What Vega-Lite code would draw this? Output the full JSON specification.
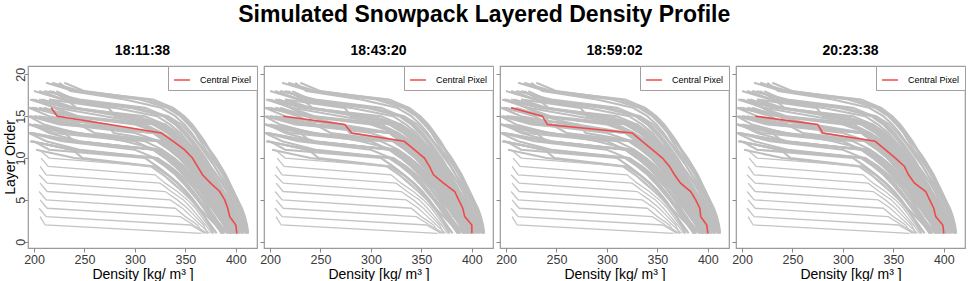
{
"$schema":"https://vega.github.io/schema/vega-lite/v6.json",
"padding":{"left":2,"right":4,"top":3,"bottom":2},
"title":{"text":"Simulated Snowpack Layered Density Profile","fontSize":23,"fontWeight":"bold","anchor":"middle","offset":16,"color":"black","font":"Liberation Sans"},
"config":{
 "font":"Liberation Sans",
 "view":{"stroke":"#9a9a9a","strokeWidth":1.2},
 "axis":{"grid":false,"domain":false,"tickColor":"#8a8a8a","tickSize":4,"labelFontSize":12.5,"labelColor":"#3a3a3a","titleFontSize":14,"titleFontWeight":"normal","titleColor":"black","labelFont":"Liberation Sans","titleFont":"Liberation Sans"},
 "concat":{"spacing":7},
 "legend":{"orient":"top-right","offset":0,"title":null,"padding":5,"strokeColor":"#a0a0a0","fillColor":"white","symbolType":"stroke","symbolSize":256,"symbolStrokeWidth":1.5,"labelFontSize":9,"labelFont":"Liberation Sans","labelColor":"black","labelOffset":9,"cornerRadius":0}
},
"bounds":"flush",
"datasets":{
"gray":[
{"g":1,"x":206,"y":3},{"g":1,"x":211,"y":2},{"g":1,"x":366,"y":1},
{"g":2,"x":205,"y":4},{"g":2,"x":212,"y":3},{"g":2,"x":355,"y":2},{"g":2,"x":370,"y":1},
{"g":3,"x":206,"y":5},{"g":3,"x":213,"y":4},{"g":3,"x":345,"y":3},{"g":3,"x":358,"y":2},{"g":3,"x":372,"y":1},
{"g":4,"x":205,"y":6},{"g":4,"x":212,"y":5},{"g":4,"x":340,"y":4},{"g":4,"x":350,"y":3},{"g":4,"x":362,"y":2},{"g":4,"x":368,"y":1},
{"g":5,"x":206,"y":7},{"g":5,"x":213,"y":6},{"g":5,"x":335,"y":5},{"g":5,"x":347,"y":4},{"g":5,"x":356,"y":3},{"g":5,"x":365,"y":2},{"g":5,"x":374,"y":1},
{"g":6,"x":205,"y":8},{"g":6,"x":213,"y":7},{"g":6,"x":330,"y":6},{"g":6,"x":342,"y":5},{"g":6,"x":352,"y":4},{"g":6,"x":360,"y":3},{"g":6,"x":368,"y":2},{"g":6,"x":372,"y":1},
{"g":7,"x":206,"y":9},{"g":7,"x":212,"y":8},{"g":7,"x":325,"y":7},{"g":7,"x":336,"y":6},{"g":7,"x":348,"y":5},{"g":7,"x":356,"y":4},{"g":7,"x":363,"y":3},{"g":7,"x":370,"y":2},{"g":7,"x":376,"y":1},
{"g":8,"x":207,"y":10},{"g":8,"x":214,"y":9},{"g":8,"x":320,"y":8},{"g":8,"x":330,"y":7},{"g":8,"x":342,"y":6},{"g":8,"x":352,"y":5},{"g":8,"x":360,"y":4},{"g":8,"x":366,"y":3},{"g":8,"x":372,"y":2},{"g":8,"x":378,"y":1},
{"g":9,"x":205,"y":11},{"g":9,"x":215,"y":10},{"g":9,"x":318,"y":9},{"g":9,"x":328,"y":8},{"g":9,"x":337,"y":7},{"g":9,"x":347,"y":6},{"g":9,"x":355,"y":5},{"g":9,"x":362,"y":4},{"g":9,"x":368,"y":3},{"g":9,"x":373,"y":2},{"g":9,"x":377,"y":1},
{"g":10,"x":212,"y":19},{"g":10,"x":240,"y":18},{"g":10,"x":305,"y":17},{"g":10,"x":332,"y":16},{"g":10,"x":345,"y":15},{"g":10,"x":353,"y":14},{"g":10,"x":360,"y":13},{"g":10,"x":365,"y":12},{"g":10,"x":370,"y":11},{"g":10,"x":376,"y":10},{"g":10,"x":382,"y":9},{"g":10,"x":387,"y":8},{"g":10,"x":392,"y":7},{"g":10,"x":396,"y":6},{"g":10,"x":400,"y":5},{"g":10,"x":404,"y":4},{"g":10,"x":408,"y":3},{"g":10,"x":411,"y":2},{"g":10,"x":412,"y":1},
{"g":11,"x":225,"y":19},{"g":11,"x":236,"y":18},{"g":11,"x":290,"y":17},{"g":11,"x":326,"y":16},{"g":11,"x":340,"y":15},{"g":11,"x":349,"y":14},{"g":11,"x":356,"y":13},{"g":11,"x":362,"y":12},{"g":11,"x":368,"y":11},{"g":11,"x":374,"y":10},{"g":11,"x":379,"y":9},{"g":11,"x":384,"y":8},{"g":11,"x":389,"y":7},{"g":11,"x":394,"y":6},{"g":11,"x":398,"y":5},{"g":11,"x":402,"y":4},{"g":11,"x":406,"y":3},{"g":11,"x":409,"y":2},{"g":11,"x":411,"y":1},
{"g":12,"x":205,"y":18},{"g":12,"x":230,"y":17},{"g":12,"x":300,"y":16},{"g":12,"x":328,"y":15},{"g":12,"x":340,"y":14},{"g":12,"x":348,"y":13},{"g":12,"x":355,"y":12},{"g":12,"x":361,"y":11},{"g":12,"x":367,"y":10},{"g":12,"x":373,"y":9},{"g":12,"x":378,"y":8},{"g":12,"x":383,"y":7},{"g":12,"x":388,"y":6},{"g":12,"x":393,"y":5},{"g":12,"x":398,"y":4},{"g":12,"x":402,"y":3},{"g":12,"x":406,"y":2},{"g":12,"x":410,"y":1},
{"g":13,"x":210,"y":18},{"g":13,"x":245,"y":17},{"g":13,"x":310,"y":16},{"g":13,"x":330,"y":15},{"g":13,"x":342,"y":14},{"g":13,"x":350,"y":13},{"g":13,"x":357,"y":12},{"g":13,"x":363,"y":11},{"g":13,"x":369,"y":10},{"g":13,"x":374,"y":9},{"g":13,"x":380,"y":8},{"g":13,"x":386,"y":7},{"g":13,"x":391,"y":6},{"g":13,"x":395,"y":5},{"g":13,"x":399,"y":4},{"g":13,"x":403,"y":3},{"g":13,"x":407,"y":2},{"g":13,"x":410,"y":1},
{"g":14,"x":200,"y":18},{"g":14,"x":228,"y":17},{"g":14,"x":280,"y":16},{"g":14,"x":322,"y":15},{"g":14,"x":335,"y":14},{"g":14,"x":345,"y":13},{"g":14,"x":352,"y":12},{"g":14,"x":359,"y":11},{"g":14,"x":365,"y":10},{"g":14,"x":371,"y":9},{"g":14,"x":377,"y":8},{"g":14,"x":383,"y":7},{"g":14,"x":388,"y":6},{"g":14,"x":393,"y":5},{"g":14,"x":397,"y":4},{"g":14,"x":401,"y":3},{"g":14,"x":404,"y":2},{"g":14,"x":407,"y":1},
{"g":15,"x":198,"y":17},{"g":15,"x":232,"y":16},{"g":15,"x":295,"y":15},{"g":15,"x":325,"y":14},{"g":15,"x":337,"y":13},{"g":15,"x":346,"y":12},{"g":15,"x":354,"y":11},{"g":15,"x":360,"y":10},{"g":15,"x":366,"y":9},{"g":15,"x":372,"y":8},{"g":15,"x":378,"y":7},{"g":15,"x":383,"y":6},{"g":15,"x":388,"y":5},{"g":15,"x":392,"y":4},{"g":15,"x":396,"y":3},{"g":15,"x":400,"y":2},{"g":15,"x":404,"y":1},
{"g":16,"x":215,"y":17},{"g":16,"x":240,"y":16},{"g":16,"x":302,"y":15},{"g":16,"x":328,"y":14},{"g":16,"x":340,"y":13},{"g":16,"x":350,"y":12},{"g":16,"x":357,"y":11},{"g":16,"x":364,"y":10},{"g":16,"x":370,"y":9},{"g":16,"x":376,"y":8},{"g":16,"x":381,"y":7},{"g":16,"x":386,"y":6},{"g":16,"x":391,"y":5},{"g":16,"x":395,"y":4},{"g":16,"x":399,"y":3},{"g":16,"x":402,"y":2},{"g":16,"x":405,"y":1},
{"g":17,"x":196,"y":17},{"g":17,"x":222,"y":16},{"g":17,"x":270,"y":15},{"g":17,"x":318,"y":14},{"g":17,"x":332,"y":13},{"g":17,"x":342,"y":12},{"g":17,"x":350,"y":11},{"g":17,"x":357,"y":10},{"g":17,"x":363,"y":9},{"g":17,"x":369,"y":8},{"g":17,"x":375,"y":7},{"g":17,"x":380,"y":6},{"g":17,"x":385,"y":5},{"g":17,"x":390,"y":4},{"g":17,"x":394,"y":3},{"g":17,"x":398,"y":2},{"g":17,"x":401,"y":1},
{"g":18,"x":196,"y":16},{"g":18,"x":235,"y":15},{"g":18,"x":300,"y":14},{"g":18,"x":324,"y":13},{"g":18,"x":336,"y":12},{"g":18,"x":346,"y":11},{"g":18,"x":354,"y":10},{"g":18,"x":361,"y":9},{"g":18,"x":367,"y":8},{"g":18,"x":373,"y":7},{"g":18,"x":379,"y":6},{"g":18,"x":384,"y":5},{"g":18,"x":389,"y":4},{"g":18,"x":393,"y":3},{"g":18,"x":397,"y":2},{"g":18,"x":401,"y":1},
{"g":19,"x":205,"y":16},{"g":19,"x":242,"y":15},{"g":19,"x":310,"y":14},{"g":19,"x":327,"y":13},{"g":19,"x":340,"y":12},{"g":19,"x":349,"y":11},{"g":19,"x":357,"y":10},{"g":19,"x":364,"y":9},{"g":19,"x":370,"y":8},{"g":19,"x":376,"y":7},{"g":19,"x":381,"y":6},{"g":19,"x":386,"y":5},{"g":19,"x":390,"y":4},{"g":19,"x":394,"y":3},{"g":19,"x":398,"y":2},{"g":19,"x":400,"y":1},
{"g":20,"x":195,"y":16},{"g":20,"x":215,"y":15},{"g":20,"x":260,"y":14},{"g":20,"x":320,"y":13},{"g":20,"x":332,"y":12},{"g":20,"x":342,"y":11},{"g":20,"x":350,"y":10},{"g":20,"x":357,"y":9},{"g":20,"x":363,"y":8},{"g":20,"x":369,"y":7},{"g":20,"x":374,"y":6},{"g":20,"x":379,"y":5},{"g":20,"x":383,"y":4},{"g":20,"x":387,"y":3},{"g":20,"x":390,"y":2},{"g":20,"x":393,"y":1},
{"g":21,"x":196,"y":15},{"g":21,"x":225,"y":14},{"g":21,"x":320,"y":13},{"g":21,"x":332,"y":12},{"g":21,"x":342,"y":11},{"g":21,"x":350,"y":10},{"g":21,"x":358,"y":9},{"g":21,"x":365,"y":8},{"g":21,"x":371,"y":7},{"g":21,"x":377,"y":6},{"g":21,"x":383,"y":5},{"g":21,"x":388,"y":4},{"g":21,"x":393,"y":3},{"g":21,"x":397,"y":2},{"g":21,"x":400,"y":1},
{"g":22,"x":200,"y":15},{"g":22,"x":240,"y":14},{"g":22,"x":318,"y":13},{"g":22,"x":330,"y":12},{"g":22,"x":340,"y":11},{"g":22,"x":348,"y":10},{"g":22,"x":355,"y":9},{"g":22,"x":362,"y":8},{"g":22,"x":368,"y":7},{"g":22,"x":374,"y":6},{"g":22,"x":380,"y":5},{"g":22,"x":385,"y":4},{"g":22,"x":390,"y":3},{"g":22,"x":394,"y":2},{"g":22,"x":398,"y":1},
{"g":23,"x":195,"y":15},{"g":23,"x":210,"y":14},{"g":23,"x":242,"y":13},{"g":23,"x":322,"y":12},{"g":23,"x":334,"y":11},{"g":23,"x":344,"y":10},{"g":23,"x":352,"y":9},{"g":23,"x":359,"y":8},{"g":23,"x":365,"y":7},{"g":23,"x":371,"y":6},{"g":23,"x":377,"y":5},{"g":23,"x":382,"y":4},{"g":23,"x":386,"y":3},{"g":23,"x":389,"y":2},{"g":23,"x":391,"y":1},
{"g":24,"x":195,"y":14},{"g":24,"x":238,"y":13},{"g":24,"x":322,"y":12},{"g":24,"x":334,"y":11},{"g":24,"x":344,"y":10},{"g":24,"x":352,"y":9},{"g":24,"x":359,"y":8},{"g":24,"x":366,"y":7},{"g":24,"x":372,"y":6},{"g":24,"x":378,"y":5},{"g":24,"x":383,"y":4},{"g":24,"x":388,"y":3},{"g":24,"x":392,"y":2},{"g":24,"x":396,"y":1},
{"g":25,"x":198,"y":14},{"g":25,"x":215,"y":13},{"g":25,"x":245,"y":12},{"g":25,"x":320,"y":11},{"g":25,"x":331,"y":10},{"g":25,"x":341,"y":9},{"g":25,"x":349,"y":8},{"g":25,"x":356,"y":7},{"g":25,"x":362,"y":6},{"g":25,"x":368,"y":5},{"g":25,"x":373,"y":4},{"g":25,"x":378,"y":3},{"g":25,"x":383,"y":2},{"g":25,"x":387,"y":1},
{"g":26,"x":195,"y":14},{"g":26,"x":230,"y":13},{"g":26,"x":240,"y":12},{"g":26,"x":325,"y":11},{"g":26,"x":337,"y":10},{"g":26,"x":347,"y":9},{"g":26,"x":355,"y":8},{"g":26,"x":362,"y":7},{"g":26,"x":368,"y":6},{"g":26,"x":374,"y":5},{"g":26,"x":379,"y":4},{"g":26,"x":384,"y":3},{"g":26,"x":389,"y":2},{"g":26,"x":393,"y":1},
{"g":27,"x":195,"y":13},{"g":27,"x":238,"y":12},{"g":27,"x":318,"y":11},{"g":27,"x":330,"y":10},{"g":27,"x":340,"y":9},{"g":27,"x":349,"y":8},{"g":27,"x":356,"y":7},{"g":27,"x":362,"y":6},{"g":27,"x":368,"y":5},{"g":27,"x":373,"y":4},{"g":27,"x":378,"y":3},{"g":27,"x":383,"y":2},{"g":27,"x":388,"y":1},
{"g":28,"x":198,"y":13},{"g":28,"x":242,"y":12},{"g":28,"x":320,"y":11},{"g":28,"x":332,"y":10},{"g":28,"x":342,"y":9},{"g":28,"x":351,"y":8},{"g":28,"x":358,"y":7},{"g":28,"x":365,"y":6},{"g":28,"x":371,"y":5},{"g":28,"x":377,"y":4},{"g":28,"x":383,"y":3},{"g":28,"x":389,"y":2},{"g":28,"x":395,"y":1},
{"g":29,"x":195,"y":13},{"g":29,"x":212,"y":12},{"g":29,"x":245,"y":11},{"g":29,"x":322,"y":10},{"g":29,"x":334,"y":9},{"g":29,"x":343,"y":8},{"g":29,"x":351,"y":7},{"g":29,"x":358,"y":6},{"g":29,"x":364,"y":5},{"g":29,"x":370,"y":4},{"g":29,"x":376,"y":3},{"g":29,"x":381,"y":2},{"g":29,"x":386,"y":1},
{"g":30,"x":196,"y":12},{"g":30,"x":240,"y":11},{"g":30,"x":318,"y":10},{"g":30,"x":330,"y":9},{"g":30,"x":340,"y":8},{"g":30,"x":348,"y":7},{"g":30,"x":355,"y":6},{"g":30,"x":362,"y":5},{"g":30,"x":368,"y":4},{"g":30,"x":374,"y":3},{"g":30,"x":380,"y":2},{"g":30,"x":386,"y":1},
{"g":31,"x":200,"y":12},{"g":31,"x":215,"y":11},{"g":31,"x":310,"y":10},{"g":31,"x":322,"y":9},{"g":31,"x":333,"y":8},{"g":31,"x":343,"y":7},{"g":31,"x":351,"y":6},{"g":31,"x":358,"y":5},{"g":31,"x":364,"y":4},{"g":31,"x":369,"y":3},{"g":31,"x":374,"y":2},{"g":31,"x":378,"y":1},
{"g":32,"x":197,"y":12},{"g":32,"x":238,"y":11},{"g":32,"x":248,"y":10},{"g":32,"x":320,"y":9},{"g":32,"x":332,"y":8},{"g":32,"x":342,"y":7},{"g":32,"x":350,"y":6},{"g":32,"x":357,"y":5},{"g":32,"x":363,"y":4},{"g":32,"x":369,"y":3},{"g":32,"x":375,"y":2},{"g":32,"x":381,"y":1},
{"g":33,"x":202,"y":11},{"g":33,"x":240,"y":10},{"g":33,"x":316,"y":9},{"g":33,"x":328,"y":8},{"g":33,"x":338,"y":7},{"g":33,"x":347,"y":6},{"g":33,"x":356,"y":5},{"g":33,"x":364,"y":4},{"g":33,"x":372,"y":3},{"g":33,"x":380,"y":2},{"g":33,"x":388,"y":1},
{"g":34,"x":220,"y":16},{"g":34,"x":238,"y":15},{"g":34,"x":245,"y":14},{"g":34,"x":320,"y":13},{"g":34,"x":333,"y":12},{"g":34,"x":343,"y":11},{"g":34,"x":351,"y":10},{"g":34,"x":358,"y":9},{"g":34,"x":365,"y":8},{"g":34,"x":371,"y":7},{"g":34,"x":377,"y":6},{"g":34,"x":382,"y":5},{"g":34,"x":387,"y":4},{"g":34,"x":392,"y":3},{"g":34,"x":396,"y":2},{"g":34,"x":399,"y":1},
{"g":35,"x":218,"y":18},{"g":35,"x":232,"y":17},{"g":35,"x":242,"y":16},{"g":35,"x":290,"y":15},{"g":35,"x":326,"y":14},{"g":35,"x":338,"y":13},{"g":35,"x":348,"y":12},{"g":35,"x":356,"y":11},{"g":35,"x":363,"y":10},{"g":35,"x":369,"y":9},{"g":35,"x":375,"y":8},{"g":35,"x":381,"y":7},{"g":35,"x":386,"y":6},{"g":35,"x":391,"y":5},{"g":35,"x":396,"y":4},{"g":35,"x":400,"y":3},{"g":35,"x":405,"y":2},{"g":35,"x":408,"y":1},
{"g":36,"x":215,"y":17},{"g":36,"x":274,"y":16},{"g":36,"x":280,"y":15},{"g":36,"x":330,"y":14},{"g":36,"x":342,"y":13},{"g":36,"x":351,"y":12},{"g":36,"x":358,"y":11},{"g":36,"x":365,"y":10},{"g":36,"x":371,"y":9},{"g":36,"x":377,"y":8},{"g":36,"x":383,"y":7},{"g":36,"x":388,"y":6},{"g":36,"x":393,"y":5},{"g":36,"x":397,"y":4},{"g":36,"x":401,"y":3},{"g":36,"x":404,"y":2},{"g":36,"x":407,"y":1},
{"g":37,"x":200,"y":15},{"g":37,"x":272,"y":14},{"g":37,"x":279,"y":13},{"g":37,"x":328,"y":12},{"g":37,"x":340,"y":11},{"g":37,"x":349,"y":10},{"g":37,"x":357,"y":9},{"g":37,"x":364,"y":8},{"g":37,"x":370,"y":7},{"g":37,"x":376,"y":6},{"g":37,"x":382,"y":5},{"g":37,"x":387,"y":4},{"g":37,"x":392,"y":3},{"g":37,"x":396,"y":2},{"g":37,"x":399,"y":1},
{"g":38,"x":230,"y":19},{"g":38,"x":250,"y":18},{"g":38,"x":312,"y":17},{"g":38,"x":335,"y":16},{"g":38,"x":347,"y":15},{"g":38,"x":355,"y":14},{"g":38,"x":361,"y":13},{"g":38,"x":367,"y":12},{"g":38,"x":373,"y":11},{"g":38,"x":378,"y":10},{"g":38,"x":384,"y":9},{"g":38,"x":389,"y":8},{"g":38,"x":393,"y":7},{"g":38,"x":397,"y":6},{"g":38,"x":401,"y":5},{"g":38,"x":405,"y":4},{"g":38,"x":408,"y":3},{"g":38,"x":410,"y":2},{"g":38,"x":412,"y":1},
{"g":39,"x":205,"y":17},{"g":39,"x":238,"y":16},{"g":39,"x":285,"y":15},{"g":39,"x":323,"y":14},{"g":39,"x":336,"y":13},{"g":39,"x":345,"y":12},{"g":39,"x":353,"y":11},{"g":39,"x":360,"y":10},{"g":39,"x":366,"y":9},{"g":39,"x":372,"y":8},{"g":39,"x":377,"y":7},{"g":39,"x":382,"y":6},{"g":39,"x":387,"y":5},{"g":39,"x":391,"y":4},{"g":39,"x":395,"y":3},{"g":39,"x":398,"y":2},{"g":39,"x":402,"y":1},
{"g":40,"x":200,"y":16},{"g":40,"x":228,"y":15},{"g":40,"x":244,"y":14},{"g":40,"x":318,"y":13},{"g":40,"x":330,"y":12},{"g":40,"x":340,"y":11},{"g":40,"x":348,"y":10},{"g":40,"x":355,"y":9},{"g":40,"x":361,"y":8},{"g":40,"x":367,"y":7},{"g":40,"x":372,"y":6},{"g":40,"x":377,"y":5},{"g":40,"x":382,"y":4},{"g":40,"x":386,"y":3},{"g":40,"x":390,"y":2},{"g":40,"x":395,"y":1},
{"g":41,"x":200,"y":14},{"g":41,"x":245,"y":13},{"g":41,"x":290,"y":12},{"g":41,"x":323,"y":11},{"g":41,"x":335,"y":10},{"g":41,"x":345,"y":9},{"g":41,"x":353,"y":8},{"g":41,"x":360,"y":7},{"g":41,"x":366,"y":6},{"g":41,"x":372,"y":5},{"g":41,"x":378,"y":4},{"g":41,"x":384,"y":3},{"g":41,"x":390,"y":2},{"g":41,"x":395,"y":1},
{"g":42,"x":218,"y":19},{"g":42,"x":245,"y":18},{"g":42,"x":318,"y":17},{"g":42,"x":338,"y":16},{"g":42,"x":349,"y":15},{"g":42,"x":357,"y":14},{"g":42,"x":363,"y":13},{"g":42,"x":369,"y":12},{"g":42,"x":374,"y":11},{"g":42,"x":380,"y":10},{"g":42,"x":385,"y":9},{"g":42,"x":390,"y":8},{"g":42,"x":394,"y":7},{"g":42,"x":398,"y":6},{"g":42,"x":402,"y":5},{"g":42,"x":406,"y":4},{"g":42,"x":409,"y":3},{"g":42,"x":411,"y":2},{"g":42,"x":412,"y":1},
{"g":43,"x":215,"y":18},{"g":43,"x":238,"y":17},{"g":43,"x":295,"y":16},{"g":43,"x":330,"y":15},{"g":43,"x":343,"y":14},{"g":43,"x":351,"y":13},{"g":43,"x":358,"y":12},{"g":43,"x":364,"y":11},{"g":43,"x":370,"y":10},{"g":43,"x":375,"y":9},{"g":43,"x":381,"y":8},{"g":43,"x":387,"y":7},{"g":43,"x":392,"y":6},{"g":43,"x":396,"y":5},{"g":43,"x":400,"y":4},{"g":43,"x":404,"y":3},{"g":43,"x":408,"y":2},{"g":43,"x":411,"y":1},
{"g":44,"x":208,"y":17},{"g":44,"x":236,"y":16},{"g":44,"x":310,"y":15},{"g":44,"x":330,"y":14},{"g":44,"x":341,"y":13},{"g":44,"x":349,"y":12},{"g":44,"x":356,"y":11},{"g":44,"x":362,"y":10},{"g":44,"x":368,"y":9},{"g":44,"x":374,"y":8},{"g":44,"x":379,"y":7},{"g":44,"x":385,"y":6},{"g":44,"x":390,"y":5},{"g":44,"x":394,"y":4},{"g":44,"x":398,"y":3},{"g":44,"x":402,"y":2},{"g":44,"x":406,"y":1},
{"g":45,"x":198,"y":16},{"g":45,"x":240,"y":15},{"g":45,"x":305,"y":14},{"g":45,"x":326,"y":13},{"g":45,"x":338,"y":12},{"g":45,"x":347,"y":11},{"g":45,"x":355,"y":10},{"g":45,"x":362,"y":9},{"g":45,"x":368,"y":8},{"g":45,"x":374,"y":7},{"g":45,"x":380,"y":6},{"g":45,"x":385,"y":5},{"g":45,"x":390,"y":4},{"g":45,"x":395,"y":3},{"g":45,"x":399,"y":2},{"g":45,"x":403,"y":1},
{"g":46,"x":197,"y":15},{"g":46,"x":232,"y":14},{"g":46,"x":300,"y":13},{"g":46,"x":324,"y":12},{"g":46,"x":336,"y":11},{"g":46,"x":346,"y":10},{"g":46,"x":354,"y":9},{"g":46,"x":361,"y":8},{"g":46,"x":367,"y":7},{"g":46,"x":373,"y":6},{"g":46,"x":379,"y":5},{"g":46,"x":385,"y":4},{"g":46,"x":390,"y":3},{"g":46,"x":394,"y":2},{"g":46,"x":397,"y":1},
{"g":47,"x":196,"y":14},{"g":47,"x":236,"y":13},{"g":47,"x":310,"y":12},{"g":47,"x":327,"y":11},{"g":47,"x":339,"y":10},{"g":47,"x":349,"y":9},{"g":47,"x":357,"y":8},{"g":47,"x":364,"y":7},{"g":47,"x":370,"y":6},{"g":47,"x":376,"y":5},{"g":47,"x":382,"y":4},{"g":47,"x":387,"y":3},{"g":47,"x":391,"y":2},{"g":47,"x":394,"y":1},
{"g":48,"x":197,"y":13},{"g":48,"x":240,"y":12},{"g":48,"x":322,"y":11},{"g":48,"x":334,"y":10},{"g":48,"x":344,"y":9},{"g":48,"x":352,"y":8},{"g":48,"x":360,"y":7},{"g":48,"x":367,"y":6},{"g":48,"x":374,"y":5},{"g":48,"x":380,"y":4},{"g":48,"x":386,"y":3},{"g":48,"x":391,"y":2},{"g":48,"x":396,"y":1},
{"g":49,"x":198,"y":12},{"g":49,"x":236,"y":11},{"g":49,"x":322,"y":10},{"g":49,"x":335,"y":9},{"g":49,"x":345,"y":8},{"g":49,"x":354,"y":7},{"g":49,"x":362,"y":6},{"g":49,"x":369,"y":5},{"g":49,"x":376,"y":4},{"g":49,"x":382,"y":3},{"g":49,"x":388,"y":2},{"g":49,"x":392,"y":1},
{"g":50,"x":205,"y":15},{"g":50,"x":245,"y":14},{"g":50,"x":260,"y":13},{"g":50,"x":325,"y":12},{"g":50,"x":337,"y":11},{"g":50,"x":347,"y":10},{"g":50,"x":356,"y":9},{"g":50,"x":363,"y":8},{"g":50,"x":369,"y":7},{"g":50,"x":375,"y":6},{"g":50,"x":381,"y":5},{"g":50,"x":386,"y":4},{"g":50,"x":391,"y":3},{"g":50,"x":395,"y":2},{"g":50,"x":398,"y":1},
{"g":51,"x":200,"y":17},{"g":51,"x":220,"y":16},{"g":51,"x":244,"y":15},{"g":51,"x":320,"y":14},{"g":51,"x":334,"y":13},{"g":51,"x":344,"y":12},{"g":51,"x":352,"y":11},{"g":51,"x":359,"y":10},{"g":51,"x":366,"y":9},{"g":51,"x":372,"y":8},{"g":51,"x":378,"y":7},{"g":51,"x":384,"y":6},{"g":51,"x":389,"y":5},{"g":51,"x":393,"y":4},{"g":51,"x":397,"y":3},{"g":51,"x":400,"y":2},{"g":51,"x":403,"y":1},
{"g":52,"x":195,"y":14},{"g":52,"x":220,"y":13},{"g":52,"x":300,"y":12},{"g":52,"x":318,"y":11},{"g":52,"x":330,"y":10},{"g":52,"x":340,"y":9},{"g":52,"x":348,"y":8},{"g":52,"x":355,"y":7},{"g":52,"x":361,"y":6},{"g":52,"x":367,"y":5},{"g":52,"x":373,"y":4},{"g":52,"x":379,"y":3},{"g":52,"x":384,"y":2},{"g":52,"x":389,"y":1},
{"g":53,"x":210,"y":16},{"g":53,"x":236,"y":15},{"g":53,"x":270,"y":14},{"g":53,"x":322,"y":13},{"g":53,"x":335,"y":12},{"g":53,"x":345,"y":11},{"g":53,"x":353,"y":10},{"g":53,"x":360,"y":9},{"g":53,"x":366,"y":8},{"g":53,"x":372,"y":7},{"g":53,"x":378,"y":6},{"g":53,"x":383,"y":5},{"g":53,"x":388,"y":4},{"g":53,"x":392,"y":3},{"g":53,"x":396,"y":2},{"g":53,"x":400,"y":1},
{"g":54,"x":196,"y":13},{"g":54,"x":228,"y":12},{"g":54,"x":300,"y":11},{"g":54,"x":320,"y":10},{"g":54,"x":331,"y":9},{"g":54,"x":341,"y":8},{"g":54,"x":350,"y":7},{"g":54,"x":357,"y":6},{"g":54,"x":364,"y":5},{"g":54,"x":371,"y":4},{"g":54,"x":378,"y":3},{"g":54,"x":385,"y":2},{"g":54,"x":392,"y":1},
{"g":55,"x":222,"y":18},{"g":55,"x":240,"y":17},{"g":55,"x":300,"y":16},{"g":55,"x":333,"y":15},{"g":55,"x":346,"y":14},{"g":55,"x":354,"y":13},{"g":55,"x":361,"y":12},{"g":55,"x":367,"y":11},{"g":55,"x":373,"y":10},{"g":55,"x":379,"y":9},{"g":55,"x":384,"y":8},{"g":55,"x":390,"y":7},{"g":55,"x":395,"y":6},{"g":55,"x":399,"y":5},{"g":55,"x":403,"y":4},{"g":55,"x":406,"y":3},{"g":55,"x":409,"y":2},{"g":55,"x":412,"y":1}
],
"red":[
{"p":1,"x":217,"y":16},{"p":1,"x":223,"y":15},{"p":1,"x":275,"y":14},{"p":1,"x":326,"y":13},{"p":1,"x":338,"y":12},{"p":1,"x":349,"y":11},{"p":1,"x":357,"y":10},{"p":1,"x":362,"y":9},{"p":1,"x":367,"y":8},{"p":1,"x":375,"y":7},{"p":1,"x":384,"y":6},{"p":1,"x":389,"y":5},{"p":1,"x":392,"y":4},{"p":1,"x":394,"y":3},{"p":1,"x":400,"y":2},{"p":1,"x":401,"y":1},
{"p":2,"x":213,"y":15},{"p":2,"x":274,"y":14},{"p":2,"x":281,"y":13},{"p":2,"x":333,"y":12},{"p":2,"x":343,"y":11},{"p":2,"x":353,"y":10},{"p":2,"x":358,"y":9},{"p":2,"x":362,"y":8},{"p":2,"x":372,"y":7},{"p":2,"x":383,"y":6},{"p":2,"x":387,"y":5},{"p":2,"x":391,"y":4},{"p":2,"x":393,"y":3},{"p":2,"x":400,"y":2},{"p":2,"x":400,"y":1},
{"p":3,"x":205,"y":16},{"p":3,"x":236,"y":15},{"p":3,"x":241,"y":14},{"p":3,"x":325,"y":13},{"p":3,"x":335,"y":12},{"p":3,"x":345,"y":11},{"p":3,"x":355,"y":10},{"p":3,"x":362,"y":9},{"p":3,"x":367,"y":8},{"p":3,"x":373,"y":7},{"p":3,"x":383,"y":6},{"p":3,"x":388,"y":5},{"p":3,"x":392,"y":4},{"p":3,"x":393,"y":3},{"p":3,"x":399,"y":2},{"p":3,"x":400,"y":1},
{"p":4,"x":213,"y":15},{"p":4,"x":275,"y":14},{"p":4,"x":280,"y":13},{"p":4,"x":332,"y":12},{"p":4,"x":342,"y":11},{"p":4,"x":352,"y":10},{"p":4,"x":361,"y":9},{"p":4,"x":365,"y":8},{"p":4,"x":371,"y":7},{"p":4,"x":382,"y":6},{"p":4,"x":386,"y":5},{"p":4,"x":390,"y":4},{"p":4,"x":392,"y":3},{"p":4,"x":399,"y":2},{"p":4,"x":400,"y":1}
]
},
"hconcat":[
{"width":229,"height":182,"title":{"text":"18:11:38","fontSize":14,"fontWeight":"bold","offset":8,"color":"black"},
 "layer":[
  {"data":{"name":"gray"},"transform":[{"filter":"datum.g>9"}],"mark":{"type":"line","color":"#bebebe","strokeWidth":2.1},
   "encoding":{"x":{"field":"x","type":"quantitative","scale":{"domain":[194,421],"nice":false,"zero":false},"axis":{"values":[200,250,300,350,400],"title":"Density [kg/ m³ ]","labelPadding":1,"titlePadding":2}},
   "y":{"field":"y","type":"quantitative","scale":{"domain":[-0.75,21],"nice":false,"zero":false},"axis":{"values":[0,5,10,15,20],"title":"Layer Order","labelAngle":-90,"labelAlign":"center","labelBaseline":"bottom","labelPadding":-3,"titlePadding":-3}},
   "detail":{"field":"g"},"order":{"field":"y"}}},
  {"data":{"name":"gray"},"transform":[{"filter":"datum.g<=9"}],"mark":{"type":"line","color":"#c4c4c4","strokeWidth":1.3},
   "encoding":{"x":{"field":"x","type":"quantitative"},"y":{"field":"y","type":"quantitative"},"detail":{"field":"g"},"order":{"field":"y"}}},
  {"data":{"name":"red"},"transform":[{"filter":"datum.p==1"}],"mark":{"type":"line","strokeWidth":1.6},
   "encoding":{"x":{"field":"x","type":"quantitative"},"y":{"field":"y","type":"quantitative"},"order":{"field":"y"},
   "color":{"datum":"Central Pixel","type":"nominal","scale":{"range":["#ef4a4a"]}}}}
 ]},
{"width":229,"height":182,"title":{"text":"18:43:20","fontSize":14,"fontWeight":"bold","offset":8,"color":"black"},
 "layer":[
  {"data":{"name":"gray"},"transform":[{"filter":"datum.g>9"}],"mark":{"type":"line","color":"#bebebe","strokeWidth":2.1},
   "encoding":{"x":{"field":"x","type":"quantitative","scale":{"domain":[194,421],"nice":false,"zero":false},"axis":{"values":[200,250,300,350,400],"title":"Density [kg/ m³ ]","labelPadding":1,"titlePadding":2}},
   "y":{"field":"y","type":"quantitative","scale":{"domain":[-0.75,21],"nice":false,"zero":false},"axis":{"values":[0,5,10,15,20],"labels":false,"title":null}},
   "detail":{"field":"g"},"order":{"field":"y"}}},
  {"data":{"name":"gray"},"transform":[{"filter":"datum.g<=9"}],"mark":{"type":"line","color":"#c4c4c4","strokeWidth":1.3},
   "encoding":{"x":{"field":"x","type":"quantitative"},"y":{"field":"y","type":"quantitative"},"detail":{"field":"g"},"order":{"field":"y"}}},
  {"data":{"name":"red"},"transform":[{"filter":"datum.p==2"}],"mark":{"type":"line","strokeWidth":1.6},
   "encoding":{"x":{"field":"x","type":"quantitative"},"y":{"field":"y","type":"quantitative"},"order":{"field":"y"},
   "color":{"datum":"Central Pixel","type":"nominal","scale":{"range":["#ef4a4a"]}}}}
 ]},
{"width":229,"height":182,"title":{"text":"18:59:02","fontSize":14,"fontWeight":"bold","offset":8,"color":"black"},
 "layer":[
  {"data":{"name":"gray"},"transform":[{"filter":"datum.g>9"}],"mark":{"type":"line","color":"#bebebe","strokeWidth":2.1},
   "encoding":{"x":{"field":"x","type":"quantitative","scale":{"domain":[194,421],"nice":false,"zero":false},"axis":{"values":[200,250,300,350,400],"title":"Density [kg/ m³ ]","labelPadding":1,"titlePadding":2}},
   "y":{"field":"y","type":"quantitative","scale":{"domain":[-0.75,21],"nice":false,"zero":false},"axis":{"values":[0,5,10,15,20],"labels":false,"title":null}},
   "detail":{"field":"g"},"order":{"field":"y"}}},
  {"data":{"name":"gray"},"transform":[{"filter":"datum.g<=9"}],"mark":{"type":"line","color":"#c4c4c4","strokeWidth":1.3},
   "encoding":{"x":{"field":"x","type":"quantitative"},"y":{"field":"y","type":"quantitative"},"detail":{"field":"g"},"order":{"field":"y"}}},
  {"data":{"name":"red"},"transform":[{"filter":"datum.p==3"}],"mark":{"type":"line","strokeWidth":1.6},
   "encoding":{"x":{"field":"x","type":"quantitative"},"y":{"field":"y","type":"quantitative"},"order":{"field":"y"},
   "color":{"datum":"Central Pixel","type":"nominal","scale":{"range":["#ef4a4a"]}}}}
 ]},
{"width":229,"height":182,"title":{"text":"20:23:38","fontSize":14,"fontWeight":"bold","offset":8,"color":"black"},
 "layer":[
  {"data":{"name":"gray"},"transform":[{"filter":"datum.g>9"}],"mark":{"type":"line","color":"#bebebe","strokeWidth":2.1},
   "encoding":{"x":{"field":"x","type":"quantitative","scale":{"domain":[194,421],"nice":false,"zero":false},"axis":{"values":[200,250,300,350,400],"title":"Density [kg/ m³ ]","labelPadding":1,"titlePadding":2}},
   "y":{"field":"y","type":"quantitative","scale":{"domain":[-0.75,21],"nice":false,"zero":false},"axis":{"values":[0,5,10,15,20],"labels":false,"title":null}},
   "detail":{"field":"g"},"order":{"field":"y"}}},
  {"data":{"name":"gray"},"transform":[{"filter":"datum.g<=9"}],"mark":{"type":"line","color":"#c4c4c4","strokeWidth":1.3},
   "encoding":{"x":{"field":"x","type":"quantitative"},"y":{"field":"y","type":"quantitative"},"detail":{"field":"g"},"order":{"field":"y"}}},
  {"data":{"name":"red"},"transform":[{"filter":"datum.p==4"}],"mark":{"type":"line","strokeWidth":1.6},
   "encoding":{"x":{"field":"x","type":"quantitative"},"y":{"field":"y","type":"quantitative"},"order":{"field":"y"},
   "color":{"datum":"Central Pixel","type":"nominal","scale":{"range":["#ef4a4a"]}}}}
 ]}
],
"resolve":{"scale":{"color":"independent","x":"independent","y":"independent"},"legend":{"color":"independent"}}
}
